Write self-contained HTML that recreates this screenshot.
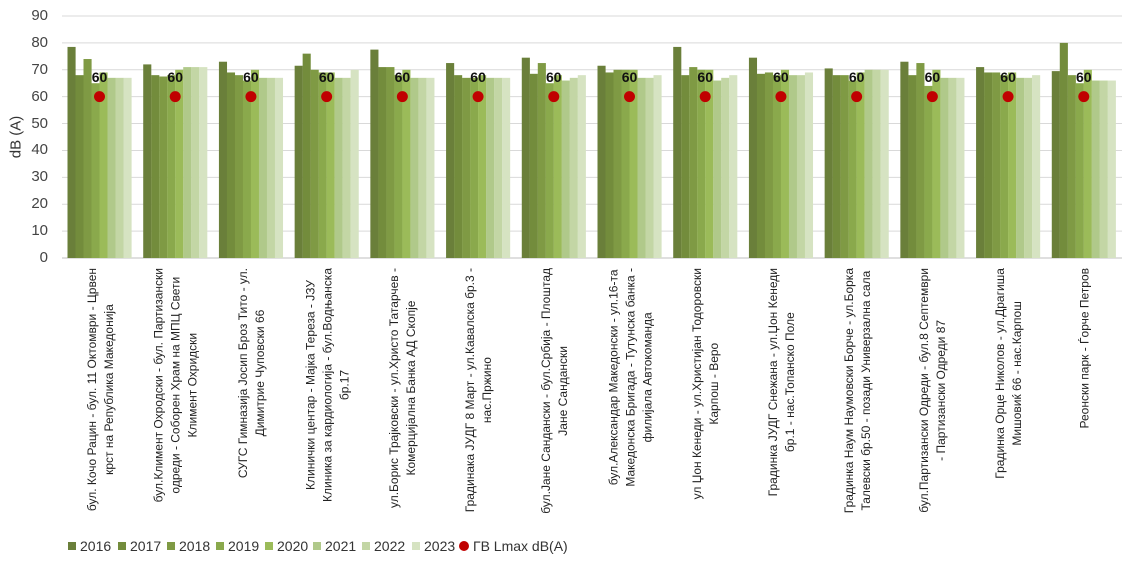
<!DOCTYPE html>
<html><head><meta charset="utf-8">
<style>
body{margin:0;background:#fff;width:1143px;height:569px;overflow:hidden;position:relative;font-family:"Liberation Sans","DejaVu Sans",sans-serif;}
.lbl{position:absolute;width:0;height:0;}
.lbl div{position:absolute;left:0;top:0;transform-origin:0 0;transform:rotate(-90deg) translate(-100%,-50%);white-space:nowrap;text-align:center;font-size:12px;line-height:17px;color:#222;}
.tick{position:absolute;width:40px;text-align:right;font-size:15px;color:#444;}
.leg{position:absolute;top:538px;font-size:14px;color:#333;white-space:nowrap;}
.leg span{display:inline-block;width:8px;height:8px;margin-right:4px;vertical-align:1px;}
</style></head><body>
<svg id="s" width="1143" height="569" style="position:absolute;left:0;top:0"></svg>
<div style="position:absolute;left:16px;top:137px;width:0;height:0;"><div style="position:absolute;transform:rotate(-90deg) translate(-50%,-50%);transform-origin:0 0;white-space:nowrap;font-size:15px;color:#333;">dB (A)</div></div>
<div id="labels"></div>
<div id="ticks"></div>
<div class="leg" style="left:68px"><span style="background:#6a7f3a"></span>2016</div>
<div class="leg" style="left:118px"><span style="background:#738c3c"></span>2017</div>
<div class="leg" style="left:167px"><span style="background:#7f9a44"></span>2018</div>
<div class="leg" style="left:216px"><span style="background:#8aa94c"></span>2019</div>
<div class="leg" style="left:265px"><span style="background:#9bbb59"></span>2020</div>
<div class="leg" style="left:313px"><span style="background:#b0c98a"></span>2021</div>
<div class="leg" style="left:362px"><span style="background:#c3d6a5"></span>2022</div>
<div class="leg" style="left:412px"><span style="background:#d6e3c2"></span>2023</div>
<div class="leg" style="left:459px"><span style="background:#c00000;border-radius:50%;width:10px;height:10px;vertical-align:0"></span>ГВ Lmax dB(A)</div>
<script>
var y0=258,sc=(258-16)/90,x0=62,gw=(1122-62)/14;
var cols=["#6a7f3a","#738c3c","#7f9a44","#8aa94c","#9bbb59","#b0c98a","#c3d6a5","#d6e3c2"];
var d=[[78.5,68,74,65,69,67,67,67],[72,68,67.5,68,70,71,71,71],[73,69,68,66,70,67,67,67],[71.5,76,70,69,69,67,67,70],[77.5,71,71,68,70,67,67,67],[72.5,68,67,67,68,67,67,67],[74.5,68.5,72.5,65,68,66,67,68],[71.5,69,70,70,70,67,67,68],[78.5,68,71,70,70,66,67,68],[74.5,68.5,69,68,70,68,68,69],[70.5,68,68,66,69,70,70,70],[73,68,72.5,64,70,67,67,67],[71,69,69,68,69,67,67,68],[69.5,80,68,65,70,66,66,66]];
var L=["бул. Кочо Рацин - бул. 11 Октомври - Црвен<br>крст на Република Македонија","бул.Климент Охродски - бул. Партизански<br>одреди - Соборен Храм на МПЦ Свети<br>Климент Охридски","СУГС Гимназија Јосип Броз Тито - ул.<br>Димитрие Чуповски 66","Клинички центар - Мајка Тереза - ЈЗУ<br>Клиника за кардиологија - бул.Водњанска<br>бр.17","ул.Борис Трајковски - ул.Христо Татарчев -<br>Комерцијална Банка АД Скопје","Градинака ЈУДГ 8 Март - ул.Кавалска бр.3 -<br>нас.Пржино","бул.Јане Сандански - бул.Србија - Плоштад<br>Јане Сандански","бул.Александар Македонски - ул.16-та<br>Македонска Бригада - Тутунска банка -<br>филијала Автокоманда","ул Џон Кенеди - ул.Христијан Тодоровски<br>Карпош - Веро","Градинка ЈУДГ Снежана - ул.Џон Кенеди<br>бр.1 - нас.Топанско Поле","Градинка Наум Наумовски Борче - ул.Борка<br>Талевски бр.50 - позади Универзална сала","бул.Партизански Одреди - бул.8 Септември<br>- Партизански Одреди 87","Градинка Орце Николов - ул.Драгиша<br>Мишовиќ 66 - нас.Карпош","Реонски парк - Ѓорче Петров"];
var s='';
for(var v=0;v<=90;v+=10){var y=y0-v*sc;s+='<line x1="'+x0+'" x2="1122" y1="'+y+'" y2="'+y+'" stroke="'+(v?'#d9d9d9':'#bfbfbf')+'" stroke-width="1"/>';}
var lab='',tk='';
for(var g=0;g<14;g++){var gx=x0+g*gw+5.5;
for(var i=0;i<8;i++){var h=d[g][i]*sc;s+='<rect x="'+(gx+i*8)+'" y="'+(y0-h)+'" width="8.1" height="'+h+'" fill="'+cols[i]+'"/>';}
var cx=gx+32;
s+='<circle cx="'+cx+'" cy="'+(y0-60*sc)+'" r="5.5" fill="#c00000"/>';
s+='<text x="'+cx+'" y="'+(y0-67*sc+4)+'" text-anchor="middle" font-family="Liberation Sans, sans-serif" font-weight="bold" font-size="14" fill="#111">60</text>';
lab+='<div class="lbl" style="left:'+(cx+1)+'px;top:268px"><div>'+L[g]+'</div></div>';}
for(var v=0;v<=90;v+=10){tk+='<div class="tick" style="left:8px;top:'+(y0-v*sc-9)+'px">'+v+'</div>';}
document.getElementById('s').innerHTML=s;
document.getElementById('labels').innerHTML=lab;
document.getElementById('ticks').innerHTML=tk;
</script>
</body></html>
